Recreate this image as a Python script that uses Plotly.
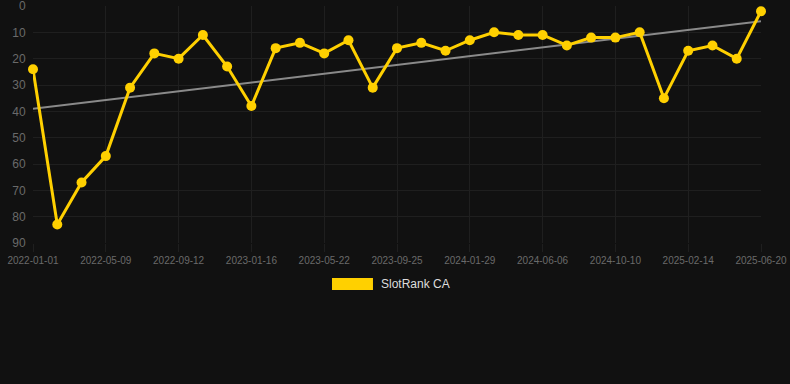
import numpy as np
import plotly.graph_objects as go

dates = [
    "2022-01-01", "2022-02-12", "2022-03-26", "2022-05-09", "2022-06-20", "2022-08-01",
    "2022-09-12", "2022-10-24", "2022-12-05", "2023-01-16", "2023-02-27", "2023-04-10",
    "2023-05-22", "2023-07-03", "2023-08-14", "2023-09-25", "2023-11-06", "2023-12-18",
    "2024-01-29", "2024-03-11", "2024-04-24", "2024-06-06", "2024-07-18", "2024-08-29",
    "2024-10-10", "2024-11-21", "2025-01-02", "2025-02-14", "2025-03-28", "2025-05-09",
    "2025-06-20",
]
rank = [24, 83, 67, 57, 31, 18, 20, 11, 23, 38, 16, 14, 18, 13, 31, 16, 14, 17, 13,
        10, 11, 11, 15, 12, 12, 10, 35, 17, 15, 20, 2]
tick_labels = dates[::3]
y_ticks = [0, 10, 20, 30, 40, 50, 60, 70, 80, 90]
series_name = "SlotRank CA"

idx = np.arange(len(rank))
slope, intercept = np.polyfit(idx, rank, 1)
trend = slope * idx + intercept

fig = go.Figure()
fig.add_trace(go.Scatter(
    x=dates, y=trend, mode="lines",
    line=dict(color="#8a8a8a", width=2),
    showlegend=False, hoverinfo="skip", cliponaxis=False,
))
fig.add_trace(go.Scatter(
    x=dates, y=rank, mode="lines+markers", name=series_name,
    line=dict(color="#FFD000", width=3),
    marker=dict(color="#FFD000", size=10),
    showlegend=False, cliponaxis=False,
))

grid = "#1f1f1f"
fig.update_layout(
    width=790, height=384,
    margin=dict(l=33, r=29, t=6, b=141, autoexpand=False),
    paper_bgcolor="#111111", plot_bgcolor="#111111",
    font=dict(family="Liberation Sans, Arial, sans-serif", color="#666666"),
    xaxis=dict(
        type="category", range=[0, len(dates) - 1], automargin=False,
        tickmode="array", tickvals=tick_labels, ticktext=tick_labels,
        showgrid=True, gridcolor=grid, gridwidth=1,
        ticks="outside", ticklen=8, tickcolor=grid,
        tickfont=dict(size=10, color="#6a6a6a"),
        showline=False, zeroline=False, ticklabeloverflow="allow",
    ),
    yaxis=dict(
        range=[90, 0], tickmode="array", tickvals=y_ticks, automargin=False,
        showgrid=True, gridcolor=grid, gridwidth=1,
        ticks="outside", ticklen=4, tickcolor="#111111",
        tickfont=dict(size=12, color="#6a6a6a"),
        showline=False, zeroline=False, ticklabeloverflow="allow",
    ),
    shapes=[dict(
        type="rect", xref="paper", yref="paper",
        x0=0.4107, x1=0.467, y0=-0.198, y1=-0.1477,
        fillcolor="#FFD000", line=dict(width=0),
    )],
    annotations=[dict(
        text=series_name, xref="paper", yref="paper",
        x=0.4753, y=-0.173, xanchor="left", yanchor="middle",
        showarrow=False, font=dict(size=12, color="#dddddd"),
    )],
)

fig.write_html("out.html", config={"displayModeBar": False})

with open("out.html", "r", encoding="utf-8") as f:
    html = f.read()
html = html.replace(
    "<head>",
    "<head><style>html,body{margin:0;padding:0;background:#111111;overflow:hidden;}</style>",
    1,
)
with open("out.html", "w", encoding="utf-8") as f:
    f.write(html)
